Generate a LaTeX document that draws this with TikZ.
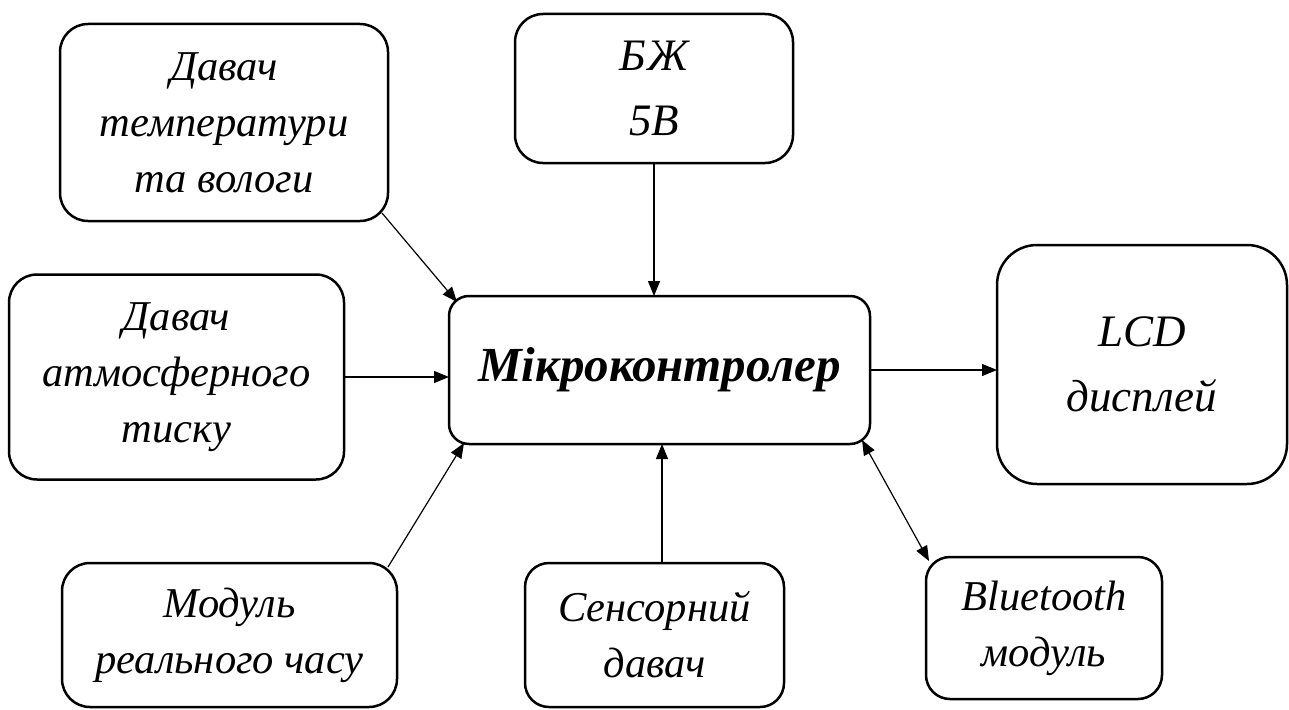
\documentclass[tikz,border=0pt]{standalone}
\usepackage{fontspec}
\setmainfont{Liberation Serif}
\usetikzlibrary{arrows.meta,calc}
\tikzset{
  blk/.style={draw, line width=2.5pt, rounded corners=28pt, inner sep=0pt, outer sep=0pt, align=center,
    font=\fontsize{42.5}{56}\selectfont\itshape},
  bigblk/.style={blk, font=\fontsize{45}{65}\selectfont\itshape},
  mcu/.style={blk, rounded corners=20pt, font=\fontsize{49}{55}\selectfont\bfseries\itshape},
  arr/.style={line width=1.2pt, -{Triangle[length=15pt,width=12pt]}},
  darr/.style={line width=1.2pt, {Triangle[length=15pt,width=12pt]}-{Triangle[length=15pt,width=12pt]}}
}
\begin{document}
\begin{tikzpicture}[x=1pt,y=-1pt]
\useasboundingbox (0,0) rectangle (1289,709);
\node[blk, minimum width=328pt, minimum height=197pt] (temp) at (224,122.5) {Давач\\температури\\та вологи};
\node[bigblk, minimum width=278pt, minimum height=149pt] (psu) at (654,88.5) {БЖ\\5В};
\node[blk, minimum width=335pt, minimum height=205pt] (atm) at (176.5,377) {Давач\\атмосферного\\тиску};
\node[mcu, minimum width=421pt, minimum height=148pt] (mcu) at (659.5,370) {Мікроконтролер};
\node[bigblk, rounded corners=40pt, minimum width=290pt, minimum height=239pt] (lcd) at (1142,364.5) {LCD\\дисплей};
\node[blk, minimum width=335pt, minimum height=144pt] (rtc) at (229.5,635) {Модуль\\реального часу};
\node[blk, rounded corners=24pt, minimum width=259pt, minimum height=144pt] (sens) at (654.5,635) {Сенсорний\\давач};
\node[blk, rounded corners=24pt, minimum width=236pt, minimum height=142pt] (bt) at (1044,628) {Bluetooth\\модуль};

\draw[arr] ($(temp.south east)+(-6,-8)$) -- ($(mcu.north west)+(8,6)$);
\draw[arr] (psu.south) -- (psu.south |- mcu.north);
\draw[arr] (atm.east) -- (atm.east -| mcu.west);
\draw[arr] (mcu.east) -- (mcu.east -| lcd.west);
\draw[arr] ($(rtc.north east)+(-9,4)$) -- ($(mcu.south west)+(15,-1)$);
\draw[arr] ($(sens.north)+(7.5,0)$) -- ($(mcu.south)+(2.5,0)$);
\draw[darr] ($(mcu.south east)+(-8,-4)$) -- ($(bt.north west)+(3,4)$);
\end{tikzpicture}
\end{document}
